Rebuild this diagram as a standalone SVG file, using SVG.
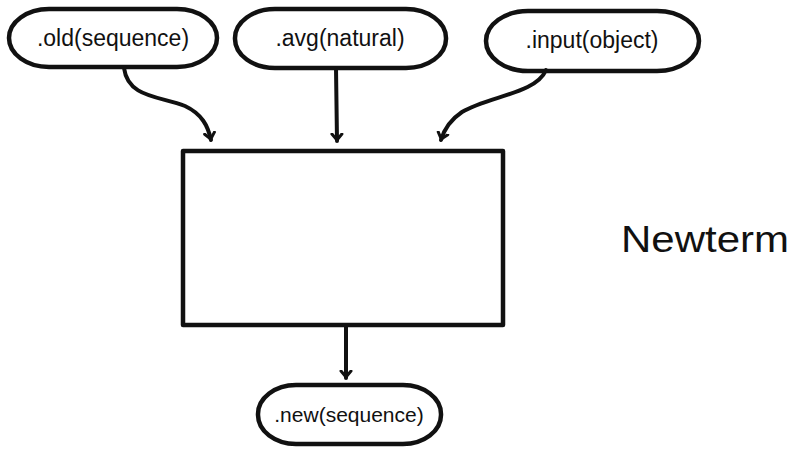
<svg xmlns="http://www.w3.org/2000/svg" width="793" height="449" viewBox="0 0 793 449">
  <style>
    .shape { fill: none; stroke: #111; stroke-width: 4.5; stroke-linejoin: round; }
    .wire { fill: none; stroke: #111; stroke-width: 4; stroke-linecap: round; }
    .label { font-family: "Liberation Sans", "DejaVu Sans", sans-serif; font-size: 23px; fill: #111; text-anchor: middle; }
    .title { font-family: "Liberation Sans", "DejaVu Sans", sans-serif; font-size: 36px; fill: #111; }
  </style>
  <defs>
    <marker id="tip" viewBox="-8 -8 16 16" refX="0" refY="0" markerWidth="16" markerHeight="16" orient="auto" markerUnits="userSpaceOnUse">
      <path d="M-7,-5 L-1,0 M-7,5 L-1,0" fill="none" stroke="#111" stroke-width="3" stroke-linecap="round"/>
    </marker>
  </defs>

  <rect width="793" height="449" fill="#ffffff"/>

  <g id="connectors">
    <path class="wire" d="M124,68 C128,98 160,96 185,106 C202,114 208,126 211,140" marker-end="url(#tip)"/>
    <path class="wire" d="M336,68 L337,141" marker-end="url(#tip)"/>
    <path class="wire" d="M546,70 C536,94 488,96 462,112 C450,120 444,130 441,140" marker-end="url(#tip)"/>
    <path class="wire" d="M346,326 L346,378" marker-end="url(#tip)"/>
  </g>

  <g id="node-old">
    <rect class="shape" x="9" y="9" width="208" height="58" rx="40" ry="29"/>
    <text class="label" x="113" y="46">.old(sequence)</text>
  </g>

  <g id="node-avg">
    <rect class="shape" x="235" y="9" width="211" height="59" rx="40" ry="29"/>
    <text class="label" x="340" y="46">.avg(natural)</text>
  </g>

  <g id="node-input">
    <rect class="shape" x="486" y="11" width="213" height="60" rx="42" ry="30"/>
    <text class="label" x="592" y="48">.input(object)</text>
  </g>

  <g id="node-newterm">
    <rect class="shape" x="183" y="151" width="320" height="174"/>
  </g>

  <g id="node-new">
    <rect class="shape" x="258" y="385" width="183" height="59" rx="38" ry="29"/>
    <text class="label" x="349" y="422" style="font-size:21px">.new(sequence)</text>
  </g>

  <text class="title" x="621" y="252" textLength="168" lengthAdjust="spacingAndGlyphs">Newterm</text>
</svg>
